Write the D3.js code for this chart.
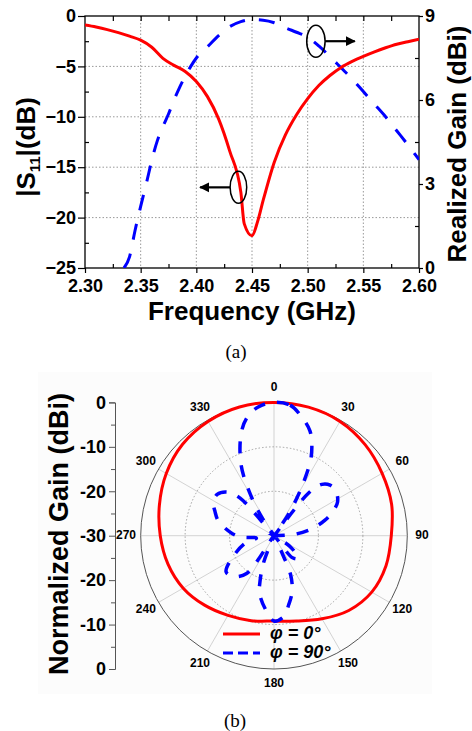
<!DOCTYPE html>
<html>
<head>
<meta charset="utf-8">
<script src="https://cdn.jsdelivr.net/npm/d3@7"></script>
<style>
  body { margin: 0; background: #fff; }
  svg { display: block; font-family: "Liberation Sans", Arial, sans-serif; }
  .tick text { font-weight: bold; }
</style>
</head>
<body>
<div id="chart"></div>
<script>
// ---- data: (a) S11 and realized gain vs frequency ----
const s11Freq = [2.30, 2.31, 2.32, 2.33, 2.34, 2.35, 2.36, 2.37, 2.38, 2.39, 2.40, 2.41, 2.42, 2.43, 2.44, 2.443, 2.45, 2.455, 2.46, 2.47, 2.48, 2.49, 2.50, 2.51, 2.52, 2.53, 2.54, 2.55, 2.56, 2.57, 2.58, 2.59, 2.60];
const s11Val  = [-0.9, -1.1, -1.35, -1.65, -2.0, -2.4, -3.1, -4.2, -4.9, -5.5, -6.5, -8.0, -10.2, -13.4, -17.5, -20.6, -21.8, -20.4, -18.3, -14.5, -11.8, -9.8, -8.2, -6.9, -5.9, -5.1, -4.5, -4.0, -3.55, -3.15, -2.8, -2.55, -2.3];
const gainFreq = [2.335, 2.34, 2.345, 2.35, 2.355, 2.36, 2.365, 2.37, 2.375, 2.38, 2.385, 2.39, 2.395, 2.40, 2.41, 2.42, 2.43, 2.44, 2.45, 2.46, 2.47, 2.48, 2.49, 2.50, 2.51, 2.52, 2.53, 2.54, 2.55, 2.56, 2.57, 2.58, 2.59, 2.60];
const gainVal  = [0, 0.4, 1.35, 2.2, 3.0, 3.85, 4.55, 5.05, 5.5, 6.0, 6.45, 6.85, 7.2, 7.5, 7.9, 8.3, 8.62, 8.8, 8.87, 8.85, 8.76, 8.58, 8.42, 8.25, 7.93, 7.55, 7.15, 6.75, 6.3, 5.85, 5.4, 4.9, 4.4, 3.87];
const freqTicks = [2.30, 2.35, 2.40, 2.45, 2.50, 2.55, 2.60];
const s11Ticks = [-25, -20, -15, -10, -5, 0];
const gainTicks = [0, 3, 6, 9];

// ---- data: (b) normalized radiation patterns ----
const redAngles = [0, 15, 30, 45, 60, 75, 90, 105, 120, 135, 150, 165, 180, 195, 210, 225, 240, 255, 270, 285, 300, 315, 330, 345];
const redGain   = [0, -0.05, -0.3, -1.0, -1.9, -2.6, -3.6, -3.9, -4.6, -6.2, -8.4, -10.1, -10.8, -10.2, -9.3, -7.9, -6.4, -5.3, -4.4, -3.3, -2.0, -0.9, -0.3, 0];
const blueAngles = [0, 7, 13, 19, 23, 26, 30, 34, 37, 39, 43, 48, 54, 62, 68, 73, 79, 86, 90, 112, 124, 133, 140, 147, 155, 157, 162, 168, 173, 180, 187, 194, 197, 201, 203, 206, 216, 225, 233, 243, 255, 262, 268, 275, 285, 292, 299, 306, 313, 318, 322, 326, 330, 335, 342, 347, 353];
const blueGain   = [0, -0.4, -2.5, -5.1, -8.2, -11.3, -18, -24.2, -30, -17.7, -14.2, -13, -12.8, -13.8, -15.8, -18, -21, -25.3, -30, -30, -25.6, -22.5, -23.5, -30, -26, -20.4, -16.8, -14.1, -11.7, -10.8, -13.5, -16.6, -19.2, -23.3, -27.7, -30, -19.5, -17, -16.5, -19.7, -23.2, -26, -22.3, -20, -17, -15.7, -14.4, -14.2, -15.6, -18.6, -30, -25.7, -19.6, -12.5, -6, -2.8, -0.8];
const angleTicks = [0, 30, 60, 90, 120, 150, 180, 210, 240, 270, 300, 330];
const ringTicks = [-20, -10];

const W = 472, H = 731;
const svg = d3.select('#chart').append('svg').attr('width', W).attr('height', H);

// arrow marker
svg.append('defs').append('marker')
  .attr('id', 'arr').attr('viewBox', '0 0 10 10').attr('refX', 9).attr('refY', 5)
  .attr('markerWidth', 10).attr('markerHeight', 11).attr('markerUnits', 'userSpaceOnUse')
  .attr('orient', 'auto')
  .append('path').attr('d', 'M0,0L10,5L0,10z').attr('fill', '#000');

// ================= (a) =================
const x = d3.scaleLinear().domain([2.30, 2.60]).range([85, 419]);
const yL = d3.scaleLinear().domain([-25, 0]).range([268, 16]);
const yR = d3.scaleLinear().domain([0, 9]).range([268, 16]);

const ga = svg.append('g');
ga.append('clipPath').attr('id', 'clipA').append('rect')
  .attr('x', 85).attr('y', 16).attr('width', 334).attr('height', 252);

// grid
ga.append('g').selectAll('line').data(freqTicks.slice(1, -1)).join('line')
  .attr('x1', d => x(d)).attr('x2', d => x(d)).attr('y1', 16).attr('y2', 268)
  .attr('stroke', '#999').attr('stroke-width', 1).attr('stroke-dasharray', '1.5,2');
ga.append('g').selectAll('line').data(s11Ticks.slice(1, -1)).join('line')
  .attr('x1', 85).attr('x2', 419).attr('y1', d => yL(d)).attr('y2', d => yL(d))
  .attr('stroke', '#999').attr('stroke-width', 1).attr('stroke-dasharray', '1.5,2');

const minorF = d3.range(2.325, 2.6, 0.05);
const styleAxis = g => {
  g.select('.domain').remove();
  g.selectAll('.tick line').attr('stroke', '#000').attr('stroke-width', 1.2);
  g.selectAll('.tick text').attr('font-size', 18).attr('fill', '#000');
};
// bottom
ga.append('g').attr('transform', 'translate(0,268)')
  .call(d3.axisBottom(x).tickValues(freqTicks).tickSize(5).tickPadding(6).tickFormat(d3.format('.2f')))
  .call(styleAxis);
ga.append('g').attr('transform', 'translate(0,268)')
  .call(d3.axisTop(x).tickValues(minorF).tickSize(4).tickFormat(''))
  .call(styleAxis);
// top
ga.append('g').attr('transform', 'translate(0,16)')
  .call(d3.axisBottom(x).tickValues(d3.range(2.325, 2.59, 0.025)).tickSize(5).tickFormat(''))
  .call(styleAxis);
// left
ga.append('g').attr('transform', 'translate(85,0)')
  .call(d3.axisLeft(yL).tickValues(s11Ticks).tickSize(7).tickPadding(2))
  .call(styleAxis);
ga.append('g').attr('transform', 'translate(85,0)')
  .call(d3.axisRight(yL).tickValues(d3.range(-22.5, 0, 5)).tickSize(4).tickFormat(''))
  .call(styleAxis);
// right
ga.append('g').attr('transform', 'translate(419,0)')
  .call(d3.axisRight(yR).tickValues(gainTicks).tickSize(4).tickPadding(2))
  .call(styleAxis);
ga.append('g').attr('transform', 'translate(419,0)')
  .call(d3.axisLeft(yR).tickValues([1.5, 4.5, 7.5]).tickSize(4).tickFormat(''))
  .call(styleAxis);

ga.append('rect').attr('x', 85).attr('y', 16).attr('width', 334).attr('height', 252)
  .attr('fill', 'none').attr('stroke', '#000').attr('stroke-width', 1.3);

// curves
ga.append('path')
  .datum(d3.zip(gainFreq, gainVal))
  .attr('clip-path', 'url(#clipA)')
  .attr('fill', 'none').attr('stroke', '#0000ff').attr('stroke-width', 3)
  .attr('stroke-dasharray', '16,14')
  .attr('d', d3.line().x(d => x(d[0])).y(d => yR(d[1])).curve(d3.curveMonotoneX));
ga.append('path')
  .datum(d3.zip(s11Freq, s11Val))
  .attr('clip-path', 'url(#clipA)')
  .attr('fill', 'none').attr('stroke', '#ff0000').attr('stroke-width', 3)
  .attr('d', d3.line().x(d => x(d[0])).y(d => yL(d[1])).curve(d3.curveMonotoneX));

// annotations: ellipses + arrows
ga.append('ellipse').attr('cx', x(2.4378)).attr('cy', yL(-17.0)).attr('rx', 8.3).attr('ry', 16)
  .attr('fill', 'none').attr('stroke', '#000').attr('stroke-width', 1.5);
ga.append('line').attr('x1', x(2.4378) - 8.3).attr('y1', yL(-17.0)).attr('x2', x(2.4034)).attr('y2', yL(-17.0))
  .attr('stroke', '#000').attr('stroke-width', 2.2).attr('marker-end', 'url(#arr)');
ga.append('ellipse').attr('cx', x(2.5074)).attr('cy', yR(8.1)).attr('rx', 9.2).attr('ry', 16)
  .attr('fill', 'none').attr('stroke', '#000').attr('stroke-width', 1.5);
ga.append('line').attr('x1', x(2.5074) + 9.2).attr('y1', yR(8.1)).attr('x2', x(2.5423)).attr('y2', yR(8.1))
  .attr('stroke', '#000').attr('stroke-width', 2.2).attr('marker-end', 'url(#arr)');

// titles
ga.append('text').attr('x', 252).attr('y', 320).attr('text-anchor', 'middle')
  .attr('font-size', 26).attr('font-weight', 'bold').text('Frequency (GHz)');
const yt = ga.append('text').attr('transform', 'translate(35,147) rotate(-90)')
  .attr('text-anchor', 'middle').attr('font-size', 26).attr('font-weight', 'bold');
yt.append('tspan').text('|S');
yt.append('tspan').attr('font-size', 15).attr('dy', 5).text('11');
yt.append('tspan').attr('dy', -5).text('|(dB)');
ga.append('text').attr('transform', 'translate(466,144) rotate(-90)')
  .attr('text-anchor', 'middle').attr('font-size', 26).attr('font-weight', 'bold').text('Realized Gain (dBi)');
ga.append('text').attr('x', 236).attr('y', 358).attr('text-anchor', 'middle')
  .attr('font-family', '"Liberation Serif", "Times New Roman", serif').attr('font-size', 19).text('(a)');

// ================= (b) =================
const cx = 274, cy = 535.7, R = 133.3;
const r = d3.scaleLinear().domain([-30, 0]).range([0, R]);
const rad = a => a * Math.PI / 180;

svg.append('rect').attr('x', 38).attr('y', 372).attr('width', 394).attr('height', 322).attr('fill', '#fcfcfc');

const gb = svg.append('g').attr('transform', `translate(${cx},${cy})`);
// spokes
gb.append('g').selectAll('line').data(angleTicks).join('line')
  .attr('x1', 0).attr('y1', 0)
  .attr('x2', d => R * Math.sin(rad(d))).attr('y2', d => -R * Math.cos(rad(d)))
  .attr('stroke', '#c8c8c8').attr('stroke-width', 0.8);
// rings
gb.append('g').selectAll('circle').data(ringTicks).join('circle')
  .attr('r', d => r(d)).attr('fill', 'none')
  .attr('stroke', '#999').attr('stroke-width', 0.9).attr('stroke-dasharray', '1.5,2');
gb.append('circle').attr('r', R).attr('fill', 'none').attr('stroke', '#555').attr('stroke-width', 1);
// angle labels
gb.append('g').selectAll('text').data(angleTicks).join('text')
  .attr('x', d => 148 * Math.sin(rad(d))).attr('y', d => -148 * Math.cos(rad(d)))
  .attr('text-anchor', 'middle').attr('dominant-baseline', 'middle')
  .attr('font-size', 12).attr('font-weight', 'bold').text(d => d);

const radial = d3.lineRadial().angle(d => rad(d[0])).radius(d => r(d[1]));
gb.append('path').datum(d3.zip(redAngles, redGain))
  .attr('fill', 'none').attr('stroke', '#ff0000').attr('stroke-width', 3)
  .attr('d', radial.curve(d3.curveCatmullRomClosed.alpha(0.5)));
gb.append('path').datum(d3.zip(blueAngles, blueGain))
  .attr('fill', 'none').attr('stroke', '#0000ff').attr('stroke-width', 3.5)
  .attr('stroke-dasharray', '12,12')
  .attr('d', radial.curve(d3.curveCatmullRomClosed.alpha(0.5)));

// left radial axis 0..-30..0
const yP = d3.scaleLinear().domain([0, 60]).range([cy - R, cy + R]);
svg.append('g').attr('transform', 'translate(115,0)')
  .call(d3.axisLeft(yP).tickValues(d3.range(0, 61, 10)).tickSize(6).tickPadding(3)
    .tickFormat(v => v === 0 || v === 60 ? '0' : String(-(v <= 30 ? v : 60 - v))))
  .call(g => {
    g.select('.domain').attr('stroke', '#555').attr('stroke-width', 1);
    g.selectAll('.tick line').attr('stroke', '#555');
    g.selectAll('.tick text').attr('font-size', 18).attr('fill', '#000');
  });
svg.append('g').attr('transform', 'translate(115,0)')
  .call(d3.axisLeft(yP).tickValues(d3.range(5, 60, 10)).tickSize(4).tickFormat(''))
  .call(g => { g.select('.domain').remove(); g.selectAll('.tick line').attr('stroke', '#555'); });

svg.append('text').attr('transform', 'translate(68,534) rotate(-90)')
  .attr('text-anchor', 'middle').attr('font-size', 27).attr('font-weight', 'bold').text('Normalized Gain (dBi)');

// legend
const lg = svg.append('g');
lg.append('line').attr('x1', 223).attr('x2', 260).attr('y1', 634).attr('y2', 634)
  .attr('stroke', '#ff0000').attr('stroke-width', 3);
lg.append('line').attr('x1', 223).attr('x2', 260).attr('y1', 653).attr('y2', 653)
  .attr('stroke', '#0000ff').attr('stroke-width', 3).attr('stroke-dasharray', '10,5');
lg.append('text').attr('x', 270).attr('y', 639).attr('font-size', 18).attr('font-weight', 'bold')
  .attr('font-style', 'italic').text('φ = 0°');
lg.append('text').attr('x', 270).attr('y', 658).attr('font-size', 18).attr('font-weight', 'bold')
  .attr('font-style', 'italic').text('φ = 90°');

svg.append('text').attr('x', 235).attr('y', 727).attr('text-anchor', 'middle')
  .attr('font-family', '"Liberation Serif", "Times New Roman", serif').attr('font-size', 19).text('(b)');
</script>
</body>
</html>
